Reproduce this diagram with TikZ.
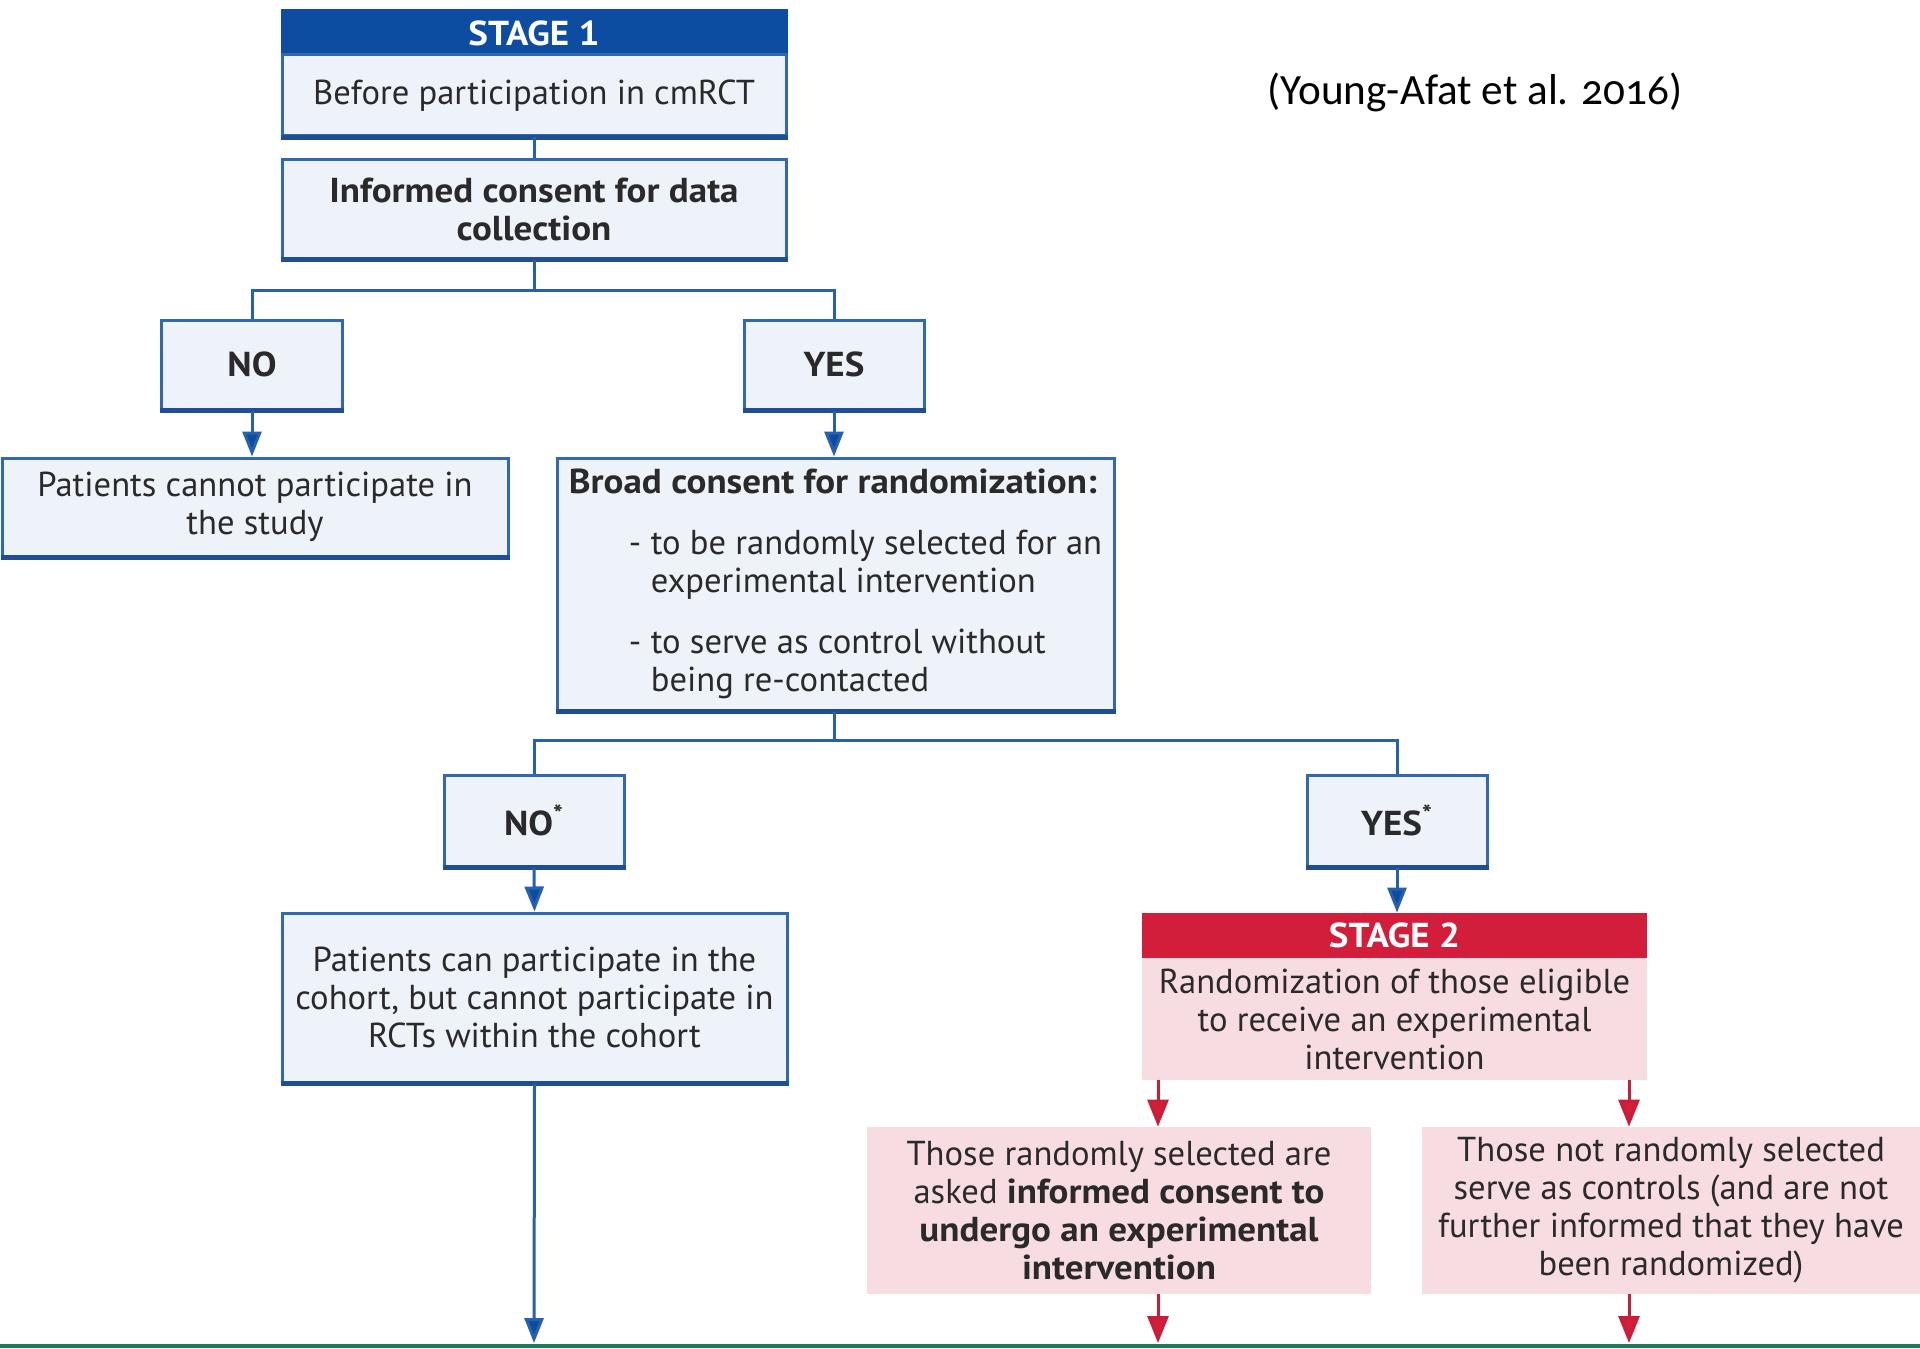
\documentclass[tikz,border=0pt]{standalone}
\usepackage{fontspec}
\setmainfont{PT Sans}[BoldFeatures={FakeStretch=1.07}]
\newfontfamily\citefont[Numbers=OldStyle]{Carlito}
\usetikzlibrary{arrows.meta}
\definecolor{bbord}{HTML}{3268B2}
\definecolor{bline}{HTML}{2760AC}
\definecolor{bbot}{HTML}{1F4E96}
\definecolor{bfill}{HTML}{EEF2F9}
\definecolor{bhead}{HTML}{0C4DA2}
\definecolor{rhead}{HTML}{D21E3B}
\definecolor{pfill}{HTML}{F7DCE1}
\definecolor{rarrow}{HTML}{C91E3A}
\definecolor{gline}{HTML}{1F7A58}
\definecolor{txt}{HTML}{2A2A2A}
\begin{document}
\begin{tikzpicture}[x=0.5pt,y=-0.5pt,
  bluebox/.style={draw=bbord, line width=1.5pt, fill=bfill, inner sep=0pt, align=center, text=txt, font=\fontsize{17.3}{19}\selectfont},
  boldbox/.style={bluebox, font=\fontsize{17.3}{19}\selectfont\bfseries},
  bhdr/.style={draw=bhead, line width=1.5pt, fill=bhead, inner sep=0pt, text=white, font=\fontsize{17.3}{19}\selectfont\bfseries},
  rhdr/.style={fill=rhead, inner sep=0pt, text=white, font=\fontsize{17.3}{19}\selectfont\bfseries},
  pinkbox/.style={fill=pfill, inner sep=0pt, align=center, text=txt, font=\fontsize{17.3}{19}\selectfont},
  conn/.style={draw=bline, line width=1.5pt},
  barr/.style={draw=bline, line width=1.5pt, -{Triangle[width=9.5pt,length=12.5pt,fill=bhead]}},
  rarr/.style={draw=rarrow, line width=1.5pt, -{Triangle[width=10.5pt,length=13.5pt,fill=rhead]}},
  botedge/.style={draw=bbot, line width=2.5pt}
]
\useasboundingbox (0,0) rectangle (1920,1348);
\fill[white] (0,0) rectangle (1920,1348);

% Stage 1
\node[bhdr, minimum width=252pt, minimum height=22pt] (s1h) at (534,33) {STAGE 1};
\node[bluebox, minimum width=252pt, minimum height=40.5pt] (s1) at (534,95.5) {Before participation in cmRCT};
\node[boldbox, minimum width=252pt, minimum height=49pt] (ic) at (534,209) {Informed consent for data\\collection};

\node[boldbox, minimum width=90.5pt, minimum height=44.5pt] (no1) at (252,364.5) {NO};
\node[boldbox, minimum width=90pt, minimum height=44.5pt] (yes1) at (834,364.5) {YES};

\node[bluebox, minimum width=253pt, minimum height=49pt] (pc) at (255,507) {Patients cannot participate in\\the study};
\node[bluebox, minimum width=278.5pt, minimum height=126pt, align=left] (bc) at (835.5,584) {%
\textbf{Broad consent for randomization:}\\[11.5pt]
\hspace*{30pt}\makebox[11pt][l]{-}to be randomly selected for an\\
\hspace*{41pt}experimental intervention\\[11.5pt]
\hspace*{30pt}\makebox[11pt][l]{-}to serve as control without\\
\hspace*{41pt}being re-contacted};

\node[boldbox, minimum width=90pt, minimum height=45.5pt] (no2) at (534,820.5) {NO\textsuperscript{*}};
\node[boldbox, minimum width=90pt, minimum height=45.5pt] (yes2) at (1397,820.5) {YES\textsuperscript{*}};

\node[bluebox, minimum width=252.5pt, minimum height=84.5pt] (pcan) at (534.5,997.5) {Patients can participate in the\\cohort, but cannot participate in\\RCTs within the cohort};

% Stage 2
\node[rhdr, minimum width=252.5pt, minimum height=22.5pt] (s2h) at (1394.5,935.5) {STAGE 2};
\node[pinkbox, minimum width=252.5pt, minimum height=61pt] (s2) at (1394.5,1019) {Randomization of those eligible\\to receive an experimental\\intervention};
\node[pinkbox, minimum width=252pt, minimum height=83.5pt] (ps) at (1119,1210.5) {Those randomly selected are\\asked \textbf{informed consent to}\\\textbf{undergo an experimental}\\\textbf{intervention}};
\node[pinkbox, minimum width=249pt, minimum height=83.5pt] (pn) at (1671,1210.5) {Those not randomly selected\\serve as controls (and are not\\further informed that they have\\been randomized)};

% citation
\node[font=\citefont\fontsize{21.6}{26}\selectfont, text=black] (cite) at (1475,92) {(Young-Afat et al. 2016)};

% bottom edges of blue boxes
\foreach \n in {s1,ic,no1,yes1,pc,bc,no2,yes2,pcan}
  \draw[botedge] (\n.south west) -- (\n.south east);

% connectors
\coordinate (j1) at (534,290);
\coordinate (j2) at (834,740);
\draw[conn] (s1.south) -- (ic.north);
\draw[conn] (ic.south) -- (j1) -| (no1.north);
\draw[conn] (j1) -| (yes1.north);
\draw[barr] (no1.south) -- (no1.south |- pc.north);
\draw[barr] (yes1.south) -- (yes1.south |- bc.north);
\draw[conn] (bc.south -| j2) -- (j2) -| (no2.north);
\draw[conn] (j2) -| (yes2.north);
\draw[barr] (no2.south) -- (pcan.north);
\draw[barr] (yes2.south) -- (yes2.south |- s2h.north);

\coordinate (e1) at (534,1343);
\coordinate (e2) at (1158,1343);
\coordinate (e3) at (1629,1343);
\draw[barr] (pcan.south) -- (e1);
\draw[rarr] (s2.south -| e2) -- (ps.north -| e2);
\draw[rarr] (s2.south -| e3) -- (pn.north -| e3);
\draw[rarr] (ps.south -| e2) -- (e2);
\draw[rarr] (pn.south -| e3) -- (e3);

% green baseline
\fill[gline] (0,1344) rectangle (1920,1348);
\end{tikzpicture}
\end{document}
